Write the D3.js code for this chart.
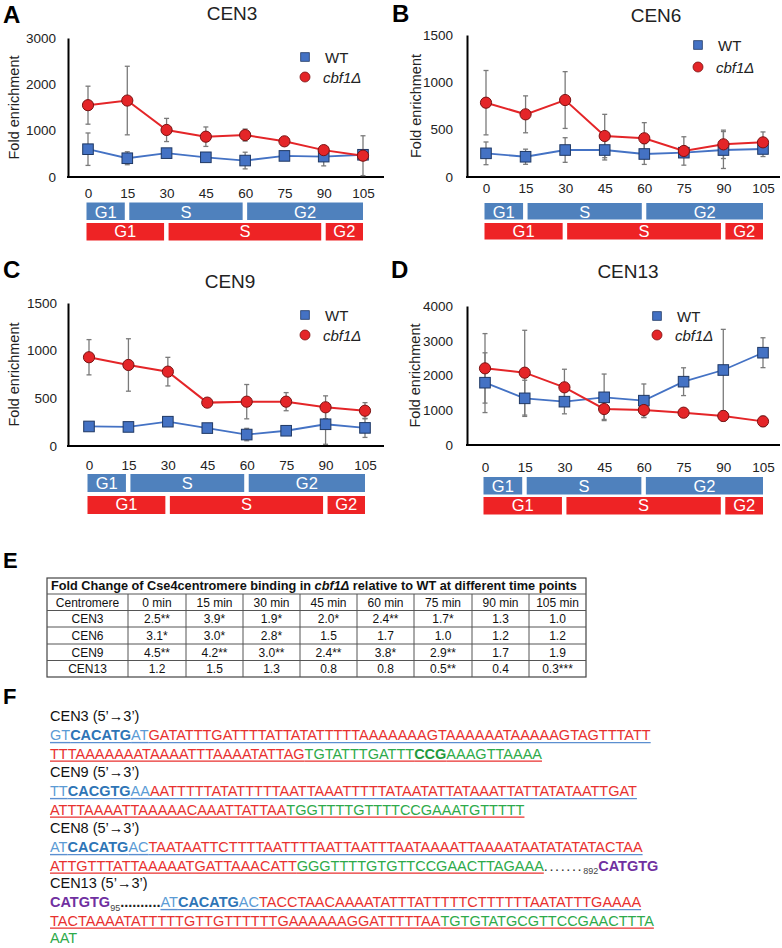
<!DOCTYPE html>
<html><head><meta charset="utf-8">
<script src="https://cdn.jsdelivr.net/npm/d3@7"></script>
<style>body{margin:0;background:#fff} svg text{font-family:Arial,"Liberation Sans",Helvetica,sans-serif}</style>
</head><body><svg id="c" width="782" height="948"></svg>
<script>
// ---------------- DATA ----------------
const times = [0, 15, 30, 45, 60, 75, 90, 105];
const seriesNames = ["WT", "cbf1Δ"];

const cen3WT = [600, 405, 515, 425, 355, 455, 440, 480];
const cen3WTerr = [350, 140, 85, 80, 180, 45, 200, 80];
const cen3Cbf = [1550, 1650, 1015, 870, 905, 770, 580, 460];
const cen3CbfErr = [410, 740, 250, 210, 130, 60, 60, 430];

const cen6WT = [250, 214, 285, 285, 243, 257, 285, 296];
const cen6WTerr = [120, 80, 130, 105, 110, 40, 195, 80];
const cen6Cbf = [785, 662, 813, 433, 409, 275, 345, 366];
const cen6CbfErr = [340, 195, 300, 229, 165, 150, 150, 110];

const cen9WT = [205, 200, 255, 188, 120, 160, 228, 190];
const cen9WTerr = [30, 30, 45, 40, 65, 45, 210, 100];
const cen9Cbf = [931, 850, 780, 455, 465, 465, 406, 370];
const cen9CbfErr = [185, 275, 150, 40, 180, 95, 120, 85];

const cen13WT = [1793, 1343, 1247, 1372, 1276, 1822, 2158, 2656];
const cen13WTerr = [860, 520, 350, 670, 480, 400, 1170, 430];
const cen13Cbf = [2206, 2081, 1660, 1036, 1007, 930, 835, 680];
const cen13CbfErr = [1000, 1220, 520, 300, 220, 50, 150, 150];

const panelKeys = ["A", "B", "C", "D"];
const panelTitles = ["CEN3", "CEN6", "CEN9", "CEN13"];
const yTicksA = [0, 1000, 2000, 3000];
const yTicksB = [0, 500, 1000, 1500];
const yTicksC = [0, 500, 1000, 1500];
const yTicksD = [0, 1000, 2000, 3000, 4000];

const wtPhases = [["G1", 0, 15], ["S", 15, 60], ["G2", 60, 105]];
const cbfPhases = [["G1", 0, 30], ["S", 30, 90], ["G2", 90, 105]];

const tableTitle = ["Fold Change of Cse4centromere binding in ", "cbf1Δ", " relative to WT at different time points"];
const tableHeader = ["Centromere", "0 min", "15 min", "30 min", "45 min", "60 min", "75 min", "90 min", "105 min"];
const tableRows = [
  ["CEN3", "2.5**", "3.9*", "1.9*", "2.0*", "2.4**", "1.7*", "1.3", "1.0"],
  ["CEN6", "3.1*", "3.0*", "2.8*", "1.5", "1.7", "1.0", "1.2", "1.2"],
  ["CEN9", "4.5**", "4.2**", "3.0**", "2.4**", "3.8*", "2.9**", "1.7", "1.9"],
  ["CEN13", "1.2", "1.5", "1.3", "0.8", "0.8", "0.5**", "0.4", "0.3***"]
];

const seqNames = ["CEN3 (5’\u21923’)", "CEN9 (5’\u21923’)", "CEN8 (5’\u21923’)", "CEN13 (5’\u21923’)"];
const cen3Seq = [
  [["GT", "lb", "b"], ["CACATG", "bb", "b"], ["AT", "lb", "b"], ["GATATTTGATTTTATTATATTTTTAAAAAAAGTAAAAAATAAAAAGTAGTTTATT", "r", "b"]],
  [["TTTAAAAAAATAAAATTTAAAATATTAG", "r", "r"], ["TGTATTTGATTT", "g", "r"], ["CCG", "gb", "r"], ["AAAGTTAAAA", "g", "r"]]
];
const cen9Seq = [
  [["TT", "lb", "b"], ["CACGTG", "bb", "b"], ["AA", "lb", "b"], ["AATTTTTATATTTTTAATTAAATTTTTATAATATTATAAATTATTATATAATTGAT", "r", "b"]],
  [["ATTTAAAATTAAAAACAAATTATTAA", "r", "r"], ["TGGTTTTGTTTTCCGAAATGTTTTT", "g", "r"]]
];
const cen8Seq = [
  [["AT", "lb", "b"], ["CACATG", "bb", "b"], ["AC", "lb", "b"], ["TAATAATTCTTTTAATTTTAATTAATTTAATAAAATTAAAATAATATATATACTAA", "r", "b"]],
  [["ATTGTTTATTAAAAATGATTAAACATT", "r", "r"], ["GGGTTTTGTGTTCCGAACTTAGAAA", "g", "r"], [".......", "k"], ["892", "sub"], ["CATGTG", "p"]]
];
const cen13Seq = [
  [["CATGTG", "p"], ["95", "sub"], ["..........", "kb"], ["AT", "lb", "b"], ["CACATG", "bb", "b"], ["AC", "lb", "b"], ["TACCTAACAAAATATTTATTTTTCTTTTTTAATATTTGAAAA", "r", "b"]],
  [["TACTAAAATATTTTTGTTGTTTTTTGAAAAAAGGATTTTTAA", "r", "r"], ["TGTGTATGCGTTCCGAACTTTA", "g", "r"]],
  [["AAT", "g"]]
];

// ---------------- LAYOUT / STYLE ----------------
const svg = d3.select("#c");
const C_BLUE = "#4472c4", C_BLUE_S = "#1f3864", C_RED = "#e42528", C_RED_S = "#7a1212";
const C_BAR_BLUE = "#4f81bd", C_BAR_RED = "#ee2325";

const layouts = {
  A: {x0: 88, x1: 363, axisX: 68, axisR: 384, yTop: 38, yBot: 177, tX: 232, tY: 20, lX: 3, lY: 23, tickR: 56, xLabY: 198, legX: 305, legY: [57, 77], yLabX: 19, barY: [202.5, 223], barH: 17.5},
  B: {x0: 486, x1: 763, axisX: 467, axisR: 780, yTop: 35, yBot: 177, tX: 656, tY: 22, lX: 392, lY: 22, tickR: 453, xLabY: 193, legX: 698, legY: [45, 67], yLabX: 421, barY: [203, 223], barH: 16.5},
  C: {x0: 89, x1: 365, axisX: 68, axisR: 384, yTop: 303, yBot: 446, tX: 230, tY: 288, lX: 3, lY: 278, tickR: 57, xLabY: 470, legX: 305, legY: [315, 335], yLabX: 19, barY: [474, 496], barH: 18},
  D: {x0: 485, x1: 763, axisX: 467, axisR: 780, yTop: 306, yBot: 445, tX: 628, tY: 278, lX: 391, lY: 278, tickR: 453, xLabY: 472, legX: 657, legY: [316, 335], yLabX: 420, barY: [477, 497], barH: 17.5}
};

const panelData = {
  A: {wt: cen3WT, wtE: cen3WTerr, cb: cen3Cbf, cbE: cen3CbfErr, ticks: yTicksA},
  B: {wt: cen6WT, wtE: cen6WTerr, cb: cen6Cbf, cbE: cen6CbfErr, ticks: yTicksB},
  C: {wt: cen9WT, wtE: cen9WTerr, cb: cen9Cbf, cbE: cen9CbfErr, ticks: yTicksC},
  D: {wt: cen13WT, wtE: cen13WTerr, cb: cen13Cbf, cbE: cen13CbfErr, ticks: yTicksD}
};

panelKeys.forEach((k, i) => {
  const L = layouts[k], P = panelData[k];
  const g = svg.append("g");
  const x = d3.scaleLinear().domain([0, 105]).range([L.x0, L.x1]);
  const yMax = P.ticks[P.ticks.length - 1];
  const y = d3.scaleLinear().domain([0, yMax]).range([L.yBot, L.yTop]);

  g.append("text").attr("x", L.lX).attr("y", L.lY).text(k)
    .style("font-size", "24px").style("font-weight", "bold").attr("fill", "#000");
  g.append("text").attr("x", L.tX).attr("y", L.tY).attr("text-anchor", "middle").text(panelTitles[i])
    .style("font-size", "19px").attr("fill", "#222");

  const gy = g.append("g").attr("transform", `translate(${L.axisX},0)`)
    .call(d3.axisLeft(y).tickValues(P.ticks).tickSize(0).tickSizeOuter(0).tickPadding(L.axisX - L.tickR).tickFormat(d3.format("d")));
  gy.select(".domain").attr("stroke", "#000").attr("stroke-width", 2);
  gy.selectAll("text").style("font-size", "13.5px").attr("fill", "#222").style("font-family", "Arial, 'Liberation Sans', sans-serif");

  const pad = L.xLabY - L.yBot - 0.71 * 13.5;
  const gx = g.append("g").attr("transform", `translate(0,${L.yBot})`)
    .call(d3.axisBottom(x).tickValues(times).tickSize(0).tickPadding(pad).tickFormat(d3.format("d")));
  gx.select(".domain").remove();
  gx.selectAll("text").style("font-size", "13.5px").attr("fill", "#222").style("font-family", "Arial, 'Liberation Sans', sans-serif");
  g.append("line").attr("x1", L.axisX - 1).attr("x2", L.axisR).attr("y1", L.yBot).attr("y2", L.yBot)
    .attr("stroke", "#000").attr("stroke-width", 1.8);

  g.append("text").attr("transform", `translate(${L.yLabX},${(L.yTop + L.yBot) / 2}) rotate(-90)`)
    .attr("text-anchor", "middle").text("Fold enrichment").style("font-size", "14.5px").attr("fill", "#222");

  const series = [
    {v: P.wt, e: P.wtE},
    {v: P.cb, e: P.cbE}
  ];
  series.forEach(s => {
    const eg = g.append("g").attr("stroke", "#7a7a7a").attr("stroke-width", 1.3);
    times.forEach((t, j) => {
      const cx = x(t), top = y(s.v[j] + s.e[j]), bot = y(Math.max(0, s.v[j] - s.e[j]));
      eg.append("line").attr("x1", cx).attr("x2", cx).attr("y1", top).attr("y2", bot);
      eg.append("line").attr("x1", cx - 2.5).attr("x2", cx + 2.5).attr("y1", top).attr("y2", top);
      eg.append("line").attr("x1", cx - 2.5).attr("x2", cx + 2.5).attr("y1", bot).attr("y2", bot);
    });
  });

  const line = d3.line().x((d, j) => x(times[j])).y(d => y(d));
  g.append("path").attr("d", line(P.wt)).attr("fill", "none").attr("stroke", C_BLUE).attr("stroke-width", 1.8);
  g.selectAll(null).data(P.wt).enter().append("rect")
    .attr("x", (d, j) => x(times[j]) - 5.3).attr("y", d => y(d) - 5.3).attr("width", 10.6).attr("height", 10.6)
    .attr("fill", C_BLUE).attr("stroke", C_BLUE_S).attr("stroke-width", 1);
  g.append("path").attr("d", line(P.cb)).attr("fill", "none").attr("stroke", C_RED).attr("stroke-width", 2);
  g.selectAll(null).data(P.cb).enter().append("circle")
    .attr("cx", (d, j) => x(times[j])).attr("cy", d => y(d)).attr("r", 5.6)
    .attr("fill", C_RED).attr("stroke", C_RED_S).attr("stroke-width", 1);

  g.append("rect").attr("x", L.legX - 4.3).attr("y", L.legY[0] - 4.3).attr("width", 8.6).attr("height", 8.6)
    .attr("fill", C_BLUE).attr("stroke", C_BLUE_S).attr("stroke-width", 0.8);
  g.append("text").attr("x", L.legX + 20).attr("y", L.legY[0] + 5.5).text(seriesNames[0]).style("font-size", "15px").attr("fill", "#222");
  g.append("circle").attr("cx", L.legX).attr("cy", L.legY[1]).attr("r", 5)
    .attr("fill", C_RED).attr("stroke", C_RED_S).attr("stroke-width", 0.8);
  g.append("text").attr("x", L.legX + 18).attr("y", L.legY[1] + 5.5).text(seriesNames[1]).style("font-size", "15px")
    .style("font-style", "italic").attr("fill", "#222");

  [[wtPhases, C_BAR_BLUE, 0], [cbfPhases, C_BAR_RED, 1]].forEach(([ph, col, r]) => {
    const by = L.barY[r];
    ph.forEach(p => {
      const xa = p[1] === 0 ? x(p[1]) - 1.5 : x(p[1]) + 2;
      const xb = p[2] === 105 ? x(p[2]) + 0 : x(p[2]) - 2.5;
      g.append("rect").attr("x", xa).attr("y", by).attr("width", xb - xa).attr("height", L.barH).attr("fill", col);
      g.append("text").attr("x", (xa + xb) / 2).attr("y", by + (r === 0 ? 15 : 14)).attr("text-anchor", "middle")
        .text(p[0]).style("font-size", "16.5px").attr("fill", "#fff");
    });
  });
});

// ---------------- TABLE (E) ----------------
svg.append("text").attr("x", 3).attr("y", 568).text("E").style("font-size", "22px").style("font-weight", "bold");
svg.append("text").attr("x", 3).attr("y", 704).text("F").style("font-size", "22px").style("font-weight", "bold");

const colX = [47, 128, 186, 243, 300, 357, 414, 472, 529, 586];
const rowY = [578, 594, 610.5, 627, 644, 660.5, 677];
const tg = svg.append("g");
tg.append("rect").attr("x", colX[0]).attr("y", rowY[0]).attr("width", colX[9] - colX[0]).attr("height", rowY[6] - rowY[0])
  .attr("fill", "none").attr("stroke", "#444").attr("stroke-width", 1.2);
for (let r = 1; r < rowY.length - 1; r++) {
  tg.append("line").attr("x1", colX[0]).attr("x2", colX[9]).attr("y1", rowY[r]).attr("y2", rowY[r]).attr("stroke", "#555").attr("stroke-width", 1);
}
for (let c = 1; c < colX.length - 1; c++) {
  tg.append("line").attr("x1", colX[c]).attr("x2", colX[c]).attr("y1", rowY[1]).attr("y2", rowY[6]).attr("stroke", "#555").attr("stroke-width", 1);
}
const tt = tg.append("text").attr("x", 51).attr("y", rowY[0] + 12).style("font-size", "12px").style("font-weight", "bold").attr("fill", "#111");
tableTitle.forEach((s, i) => tt.append("tspan").text(s).style("font-style", i === 1 ? "italic" : "normal"));
const tw = tt.node().getComputedTextLength();
tt.style("font-size", (12 * 526 / tw) + "px");

function cell(txt, c, r) {
  const cx = (colX[c] + colX[c + 1]) / 2, cy = (rowY[r] + rowY[r + 1]) / 2;
  const t = tg.append("text").attr("x", cx).attr("y", cy + 4.3).attr("text-anchor", "middle").text(txt)
    .style("font-size", "12px").attr("fill", "#111");
  const w = t.node().getComputedTextLength(), avail = colX[c + 1] - colX[c] - 4;
  if (w > avail) t.attr("textLength", avail).attr("lengthAdjust", "spacingAndGlyphs");
}
tableHeader.forEach((h, c) => cell(h, c, 1));
tableRows.forEach((row, r) => row.forEach((v, c) => cell(v, c, r + 2)));

// ---------------- SEQUENCES (F) ----------------
const SEQ_FS = 14.5;
const seqStyles = {
  lb: {color: "#5b9bd5"}, bb: {color: "#2e75b6", bold: true},
  r: {color: "#e8312f"}, g: {color: "#2eaa4a"}, gb: {color: "#1f9a3e", bold: true},
  p: {color: "#7030a0", bold: true}, k: {color: "#333", ls: 1.6}, kb: {color: "#222", bold: true},
  sub: {color: "#444", size: 9, dy: 3.5}
};
const ulColor = {b: "#5b8fd0", r: "#e8312f"};
function drawSeqLine(segs, x0, y) {
  let x = x0;
  segs.forEach(s => {
    const st = seqStyles[s[1]];
    const t = svg.append("text").attr("x", x).attr("y", y + (st.dy || 0)).text(s[0])
      .style("font-size", (st.size || SEQ_FS) + "px").style("font-weight", st.bold ? "bold" : "normal")
      .style("letter-spacing", st.ls ? st.ls + "px" : null).attr("fill", st.color);
    const w = t.node().getComputedTextLength();
    if (s[2]) svg.append("line").attr("x1", x).attr("x2", x + w).attr("y1", y + 2.6).attr("y2", y + 2.6)
      .attr("stroke", ulColor[s[2]]).attr("stroke-width", 1.4);
    x += w;
  });
}
const seqBlocks = [cen3Seq, cen9Seq, cen8Seq, cen13Seq];
const labelBase = [721, 777, 833, 888];
const lineOffsets = [19, 37.5, 55];
seqBlocks.forEach((blk, i) => {
  svg.append("text").attr("x", 50).attr("y", labelBase[i]).text(seqNames[i]).style("font-size", "14.5px").attr("fill", "#111");
  blk.forEach((ln, j) => drawSeqLine(ln, 50, labelBase[i] + lineOffsets[j]));
});
</script></body></html>
